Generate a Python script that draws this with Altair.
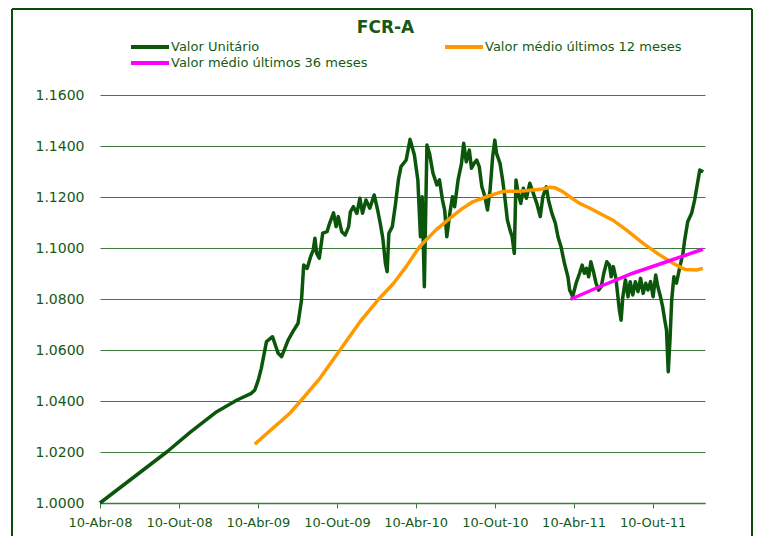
import altair as alt
import pandas as pd

SERIES = ["Valor Unitário", "Valor médio últimos 12 meses", "Valor médio últimos 36 meses"]
COLORS = ["#0b560b", "#ff9900", "#ff00ff"]
LEGEND_ORDER = ["Valor Unitário", "Valor médio últimos 36 meses", "Valor médio últimos 12 meses"]

# Valor Unitário
unit_dates = [
    "2008-04-10", "2008-09-12", "2008-11-05", "2009-01-05", "2009-02-21", "2009-03-26",
    "2009-04-03", "2009-04-11", "2009-04-18", "2009-04-30", "2009-05-14", "2009-05-27",
    "2009-06-04", "2009-06-19", "2009-06-30", "2009-07-12", "2009-07-20",
    "2009-07-25", "2009-08-02", "2009-08-10", "2009-08-16", "2009-08-20", "2009-08-24",
    "2009-08-30", "2009-09-07", "2009-09-17", "2009-09-23", "2009-10-02", "2009-10-08",
    "2009-10-13", "2009-10-21", "2009-10-29", "2009-11-06", "2009-11-10", "2009-11-17",
    "2009-11-25", "2009-12-02", "2009-12-08", "2009-12-16", "2009-12-25", "2010-01-04",
    "2010-01-12", "2010-01-18", "2010-01-24", "2010-01-30", "2010-02-03", "2010-02-07",
    "2010-02-15", "2010-02-22", "2010-03-01", "2010-03-07", "2010-03-19", "2010-03-28",
    "2010-04-07", "2010-04-15", "2010-04-21", "2010-04-25", "2010-04-30", "2010-05-06",
    "2010-05-12", "2010-05-20", "2010-05-29", "2010-06-04", "2010-06-11", "2010-06-16",
    "2010-06-21", "2010-06-28", "2010-07-04", "2010-07-09", "2010-07-17", "2010-07-25",
    "2010-07-30", "2010-08-05", "2010-08-12", "2010-08-17", "2010-08-23", "2010-08-29",
    "2010-09-04", "2010-09-10", "2010-09-16", "2010-09-23", "2010-09-29", "2010-10-05",
    "2010-10-10", "2010-10-14", "2010-10-22", "2010-10-28", "2010-11-02", "2010-11-08",
    "2010-11-14", "2010-11-19", "2010-11-24", "2010-11-28", "2010-12-03", "2010-12-09",
    "2010-12-15", "2010-12-22", "2010-12-30", "2011-01-07", "2011-01-15", "2011-01-23",
    "2011-01-29", "2011-02-06", "2011-02-11", "2011-02-19", "2011-02-27", "2011-03-05",
    "2011-03-12", "2011-03-20", "2011-03-28", "2011-04-01", "2011-04-08", "2011-04-16",
    "2011-04-24", "2011-04-30", "2011-05-05", "2011-05-10", "2011-05-15", "2011-05-20",
    "2011-05-26", "2011-06-01", "2011-06-07", "2011-06-13", "2011-06-19", "2011-06-26",
    "2011-07-02", "2011-07-06", "2011-07-11", "2011-07-17", "2011-07-25", "2011-07-29",
    "2011-08-02", "2011-08-08", "2011-08-14", "2011-08-19", "2011-08-25", "2011-08-31",
    "2011-09-06", "2011-09-12", "2011-09-18", "2011-09-24", "2011-09-29", "2011-10-05",
    "2011-10-11", "2011-10-17", "2011-10-22", "2011-10-28", "2011-11-02", "2011-11-07",
    "2011-11-11", "2011-11-15", "2011-11-19", "2011-11-23", "2011-11-28", "2011-12-04",
    "2011-12-12", "2011-12-19",
    "2011-12-23", "2011-12-30", "2012-01-08", "2012-01-15", "2012-01-23", "2012-01-27",
    "2012-02-04",
]
unit_values = [
    1.0000, 1.0201, 1.0278, 1.0358, 1.0404, 1.0430,
    1.0443, 1.0482, 1.0528, 1.0633, 1.0652, 1.0587,
    1.0574, 1.0639, 1.0672, 1.0705, 1.0796,
    1.0933, 1.0920, 1.0966, 1.0992, 1.1038, 1.0979,
    1.0960, 1.1058, 1.1064, 1.1097, 1.1138, 1.1084,
    1.1123, 1.1064, 1.1051, 1.1084, 1.1142, 1.1162,
    1.1136, 1.1195, 1.1136, 1.1188, 1.1156, 1.1208,
    1.1149, 1.1097, 1.1038, 1.0940, 1.0907, 1.1058,
    1.1084, 1.1169, 1.1267, 1.1319, 1.1345, 1.1426,
    1.1365, 1.1267, 1.1044, 1.1201, 1.0848, 1.1404,
    1.1371, 1.1293, 1.1247, 1.1267, 1.1188, 1.1149,
    1.1044, 1.1136, 1.1201, 1.1162, 1.1267, 1.1332,
    1.1411, 1.1338, 1.1384, 1.1313, 1.1332, 1.1345,
    1.1319, 1.1240, 1.1208, 1.1149, 1.1227, 1.1358,
    1.1423, 1.1371, 1.1332, 1.1267, 1.1201, 1.1110,
    1.1071, 1.1044, 1.0979, 1.1267, 1.1214, 1.1175,
    1.1234, 1.1195, 1.1254, 1.1214, 1.1175, 1.1123,
    1.1201, 1.1240, 1.1188, 1.1136, 1.1097, 1.1044,
    1.1005, 1.0940, 1.0887, 1.0835, 1.0810, 1.0862,
    1.0901, 1.0933, 1.0901, 1.0920, 1.0887, 1.0946,
    1.0907, 1.0862, 1.0835, 1.0848, 1.0901, 1.0946,
    1.0933, 1.0887, 1.0927, 1.0881, 1.0757, 1.0717,
    1.0809, 1.0875, 1.0809, 1.0868, 1.0816, 1.0868,
    1.0829, 1.0881, 1.0822, 1.0862, 1.0835, 1.0868,
    1.0809, 1.0894, 1.0848, 1.0809, 1.0770, 1.0717,
    1.0678, 1.0515, 1.0639, 1.0796, 1.0887, 1.0862,
    1.0927, 1.0979,
    1.1031, 1.1103, 1.1136, 1.1188, 1.1267, 1.1306,
    1.1299,
]

# Valor médio últimos 12 meses
m12_dates = [
    "2009-04-03", "2009-06-23", "2009-07-16", "2009-09-01", "2009-10-17", "2009-12-02",
    "2010-01-16", "2010-02-18", "2010-03-19", "2010-04-19", "2010-05-27", "2010-06-28",
    "2010-07-28", "2010-08-21", "2010-09-21", "2010-10-29", "2010-12-07", "2011-01-23",
    "2011-02-15", "2011-02-28", "2011-03-16", "2011-04-01", "2011-04-24", "2011-05-17",
    "2011-06-09", "2011-07-09", "2011-08-10", "2011-09-18", "2011-10-26", "2011-11-26",
    "2011-12-23", "2012-01-20", "2012-02-03",
]
m12_values = [
    1.0231, 1.0352, 1.0396, 1.0490, 1.0600, 1.0710,
    1.0802, 1.0862, 1.0927, 1.1005, 1.1071, 1.1116,
    1.1156, 1.1182, 1.1201, 1.1222, 1.1223, 1.1230,
    1.1238, 1.1235, 1.1221, 1.1201, 1.1175, 1.1157,
    1.1136, 1.1110, 1.1071, 1.1018, 1.0973, 1.0940,
    1.0916, 1.0914, 1.0920,
]

# Valor médio últimos 36 meses
m36_dates = ["2011-04-03", "2011-06-09", "2011-08-25", "2011-11-11", "2012-02-03"]
m36_values = [1.0799, 1.0848, 1.0901, 1.0946, 1.0995]

y_ticks = [1.00, 1.02, 1.04, 1.06, 1.08, 1.10, 1.12, 1.14, 1.16]
x_tick_dates = [(2008, 4), (2008, 10), (2009, 4), (2009, 10), (2010, 4), (2010, 10), (2011, 4), (2011, 10)]

assert len(unit_dates) == len(unit_values)
assert len(m12_dates) == len(m12_values)
assert len(m36_dates) == len(m36_values)

df = pd.concat([
    pd.DataFrame({"data": unit_dates, "valor": unit_values, "serie": SERIES[0], "ordem": 0}),
    pd.DataFrame({"data": m12_dates, "valor": m12_values, "serie": SERIES[1], "ordem": 1}),
    pd.DataFrame({"data": m36_dates, "valor": m36_values, "serie": SERIES[2], "ordem": 2}),
], ignore_index=True)

GREEN_TXT = "#145a14"
GRID = "#3f7a3f"
FRAME = "#0a4d0a"
FONT = "DejaVu Sans"

W, H = 605, 408
PAD = {"left": 92, "top": 87, "right": 49, "bottom": 33}

lines = alt.Chart(df).mark_line(strokeWidth=3.5, strokeJoin="round").encode(
    x=alt.X(
        "data:T",
        scale=alt.Scale(domain=[alt.DateTime(year=2008, month=4, date=10),
                                alt.DateTime(year=2012, month=2, date=8)]),
        axis=alt.Axis(
            values=[alt.DateTime(year=y, month=m, date=10) for y, m in x_tick_dates],
            labelExpr="'10-' + (month(datum.value) == 3 ? 'Abr' : 'Out') + '-' + timeFormat(datum.value, '%y')",
            grid=False, domainColor=GRID, domainWidth=1.5, tickColor=GRID, tickSize=5,
            labelFont=FONT, labelFontSize=13, labelColor=GREEN_TXT, labelPadding=8,
            labelOverlap=False, labelFlush=False, title=None,
        ),
    ),
    y=alt.Y(
        "valor:Q",
        scale=alt.Scale(domain=[1.0, 1.16], nice=False, zero=False),
        axis=alt.Axis(
            values=y_ticks, format=".4f", grid=True, gridColor=GRID, gridWidth=1,
            ticks=False, domain=False, labelFont=FONT, labelFontSize=14,
            labelColor=GREEN_TXT, labelPadding=16, title=None,
        ),
    ),
    color=alt.Color(
        "serie:N",
        scale=alt.Scale(domain=LEGEND_ORDER, range=[COLORS[0], COLORS[2], COLORS[1]]),
        legend=alt.Legend(
            title=None, orient="none", legendX=42, legendY=-56, columns=2,
            symbolType="M-3.1667,0H3.1667", symbolSize=144, symbolStrokeWidth=4,
            labelFont=FONT, labelFontSize=13, labelColor=GREEN_TXT, labelOffset=13,
            columnPadding=68, rowPadding=0, labelLimit=400,
        ),
    ),
    order=alt.Order("ordem:Q"),
)

one = pd.DataFrame({"k": [0]})
left_x = -88
top_y = -86
right_x = W + PAD["right"] - 2
bottom_y = H + PAD["bottom"]

frame_left = alt.Chart(one).mark_rule(color=FRAME, strokeWidth=2).encode(
    x=alt.value(left_x), y=alt.value(top_y), y2=alt.value(bottom_y))
frame_top = alt.Chart(one).mark_rule(color=FRAME, strokeWidth=2).encode(
    x=alt.value(left_x), x2=alt.value(right_x), y=alt.value(top_y))
frame_right = alt.Chart(one).mark_rule(color=FRAME, strokeWidth=2).encode(
    x=alt.value(right_x), y=alt.value(top_y), y2=alt.value(bottom_y))

chart = alt.layer(frame_left, frame_top, frame_right, lines).properties(
    width=W, height=H,
    padding=PAD,
    autosize=alt.AutoSizeParams(type="none"),
    title=alt.TitleParams(
        "FCR-A", anchor="middle", frame="group", font=FONT, fontSize=17,
        fontWeight="bold", color=GREEN_TXT, dx=-17, offset=0, dy=29,
    ),
).configure_view(stroke=None)

chart.save("out.html", embed_options={"renderer": "svg", "actions": False})
